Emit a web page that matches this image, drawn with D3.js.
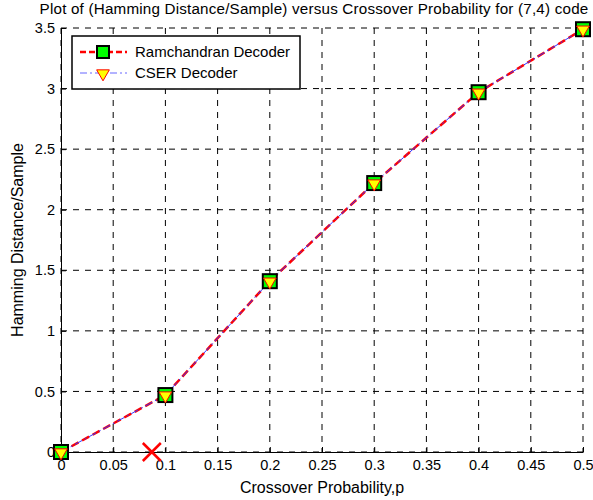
<!DOCTYPE html>
<meta charset="utf-8">
<script src="https://d3js.org/d3.v7.min.js"></script>
<style>
  body { margin: 0; background: #fff; }
  text { font-family: "Liberation Sans", Arial, sans-serif; }
</style>
<div id="chart"></div>
<script>
  var pValues = [0, 0.1, 0.2, 0.3, 0.4, 0.5];
  var ramchandran = [0, 0.47, 1.41, 2.22, 2.97, 3.49];
  var cser = [0, 0.47, 1.41, 2.22, 2.97, 3.49];
  var xTicks = [0, 0.05, 0.1, 0.15, 0.2, 0.25, 0.3, 0.35, 0.4, 0.45, 0.5];
  var yTicks = [0, 0.5, 1, 1.5, 2, 2.5, 3, 3.5];
  var crossPoint = [0.087, 0];

  var margin = {top: 28, right: 10, bottom: 48, left: 61},
      width = 583 - margin.left,
      height = 452 - margin.top;

  var svg = d3.select("#chart")
    .append("svg")
      .attr("width", 593)
      .attr("height", 500)
    .append("g")
      .attr("transform", "translate(" + margin.left + "," + margin.top + ")");

  var x = d3.scaleLinear().domain([0, 0.5]).range([0, width]);
  var y = d3.scaleLinear().domain([0, 3.5]).range([height, 0]);

  // grid
  svg.append("g").selectAll("line")
    .data(xTicks)
    .enter().append("line")
      .attr("x1", d => x(d)).attr("x2", d => x(d))
      .attr("y1", 0).attr("y2", height)
      .attr("stroke", "#000").attr("stroke-width", 1)
      .attr("stroke-dasharray", "6,6");
  svg.append("g").selectAll("line")
    .data(yTicks)
    .enter().append("line")
      .attr("x1", 0).attr("x2", width)
      .attr("y1", d => y(d)).attr("y2", d => y(d))
      .attr("stroke", "#000").attr("stroke-width", 1)
      .attr("stroke-dasharray", "6,6");

  // axes
  var xAxis = svg.append("g")
    .attr("transform", "translate(0," + height + ")")
    .call(d3.axisBottom(x).tickValues(xTicks).tickSizeInner(-5).tickSizeOuter(0).tickPadding(8).tickFormat(d3.format("")));
  var yAxis = svg.append("g")
    .call(d3.axisLeft(y).tickValues(yTicks).tickSizeInner(-5).tickSizeOuter(0).tickPadding(6).tickFormat(d3.format("")));
  [xAxis, yAxis].forEach(function(a) {
    a.selectAll("text").style("font-size", "14.5px").attr("fill", "#000");
    a.selectAll("line, path").attr("stroke", "#000");
    a.attr("font-family", null);
  });

  // title and labels
  svg.append("text")
    .attr("x", 314 - margin.left)
    .attr("y", -14)
    .attr("text-anchor", "middle")
    .style("font-size", "15.2px")
    .style("letter-spacing", "0.2px")
    .text("Plot of (Hamming Distance/Sample) versus Crossover Probability for (7,4) code");
  svg.append("text")
    .attr("x", width / 2)
    .attr("y", height + 41)
    .attr("text-anchor", "middle")
    .style("font-size", "16px")
    .text("Crossover Probability,p");
  svg.append("text")
    .attr("transform", "rotate(-90)")
    .attr("x", -(y(1.75)))
    .attr("y", -38)
    .attr("text-anchor", "middle")
    .style("font-size", "16px")
    .text("Hamming Distance/Sample");

  var line = d3.line().x(d => x(d[0])).y(d => y(d[1]));
  var rData = pValues.map((p, i) => [p, ramchandran[i]]);
  var cData = pValues.map((p, i) => [p, cser[i]]);

  svg.append("path")
    .datum(rData)
    .attr("d", line)
    .attr("fill", "none")
    .attr("stroke", "#ff0000")
    .attr("stroke-width", 2.5)
    .attr("stroke-dasharray", "8,4");
  svg.append("path")
    .datum(cData)
    .attr("d", line)
    .attr("fill", "none")
    .attr("stroke", "#3333ff")
    .attr("stroke-width", 1)
    .attr("stroke-dasharray", "8,3,2,3");

  var tri = d3.symbol().type(d3.symbolTriangle).size(70);

  svg.selectAll("rect.mk")
    .data(rData)
    .enter().append("rect")
      .attr("class", "mk")
      .attr("x", d => x(d[0]) - 7)
      .attr("y", d => y(d[1]) - 7)
      .attr("width", 14).attr("height", 14)
      .attr("fill", "#00ff00")
      .attr("stroke", "#000")
      .attr("stroke-width", 2);
  svg.selectAll("path.tri")
    .data(cData)
    .enter().append("path")
      .attr("class", "tri")
      .attr("d", tri)
      .attr("transform", d => "translate(" + x(d[0]) + "," + (y(d[1]) + 0.5) + ") rotate(180)")
      .attr("fill", "#ffff00")
      .attr("stroke", "#ff0000")
      .attr("stroke-width", 1);

  // red cross
  var cx = x(crossPoint[0]), cy = y(crossPoint[1]);
  svg.append("path")
    .attr("d", "M" + (cx - 9) + "," + (cy - 9) + "L" + (cx + 9) + "," + (cy + 9) +
               "M" + (cx - 9) + "," + (cy + 9) + "L" + (cx + 9) + "," + (cy - 9))
    .attr("stroke", "#ff0000")
    .attr("stroke-width", 2.5);

  // legend
  var lg = svg.append("g").attr("transform", "translate(" + (72 - margin.left) + "," + (36 - margin.top) + ")");
  lg.append("rect")
    .attr("width", 228).attr("height", 53)
    .attr("fill", "#fff").attr("stroke", "#000").attr("stroke-width", 1.5);
  var items = [
    {name: "Ramchandran Decoder", color: "#ff0000", w: 2.5, dash: "6,3"},
    {name: "CSER Decoder", color: "#6666ff", w: 1, dash: "7,3,2,3"}
  ];
  items.forEach(function(it, i) {
    var ly = 16 + i * 21;
    lg.append("line")
      .attr("x1", 8).attr("x2", 55)
      .attr("y1", ly).attr("y2", ly)
      .attr("stroke", it.color).attr("stroke-width", it.w)
      .attr("stroke-dasharray", it.dash);
    if (i === 0) {
      lg.append("rect")
        .attr("x", 31 - 6).attr("y", ly - 6)
        .attr("width", 12).attr("height", 12)
        .attr("fill", "#00ff00").attr("stroke", "#000").attr("stroke-width", 2);
    } else {
      lg.append("path")
        .attr("d", tri)
        .attr("transform", "translate(31," + (ly + 0.5) + ") rotate(180)")
        .attr("fill", "#ffff00").attr("stroke", "#ff0000");
    }
    lg.append("text")
      .attr("x", 63).attr("y", ly + 5)
      .style("font-size", "15px")
      .text(it.name);
  });
</script>
